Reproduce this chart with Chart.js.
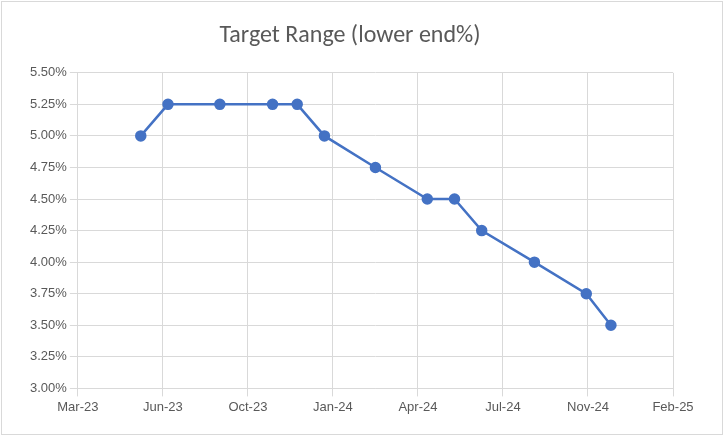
<!DOCTYPE html>
<html>
<head>
<meta charset="utf-8">
<script src="https://cdn.jsdelivr.net/npm/chart.js@4"></script>
<style>
  body { margin: 0; background: #fff; }
  #wrap { position: absolute; left: 1px; top: 1px; width: 720px; height: 432px; border: 1px solid #d9d9d9; }
</style>
</head>
<body>
<div id="wrap"><canvas id="c"></canvas></div>
<script>
// decision dates and lower end of target range (%)
const dates = ["2023-05-14", "2023-06-15", "2023-08-15", "2023-10-16", "2023-11-14", "2023-12-16",
  "2024-02-14", "2024-04-15", "2024-05-17", "2024-06-18", "2024-08-19", "2024-10-19", "2024-11-17"];
const rates = [5.00, 5.25, 5.25, 5.25, 5.25, 5.00, 4.75, 4.50, 4.50, 4.25, 4.00, 3.75, 3.50];
const xLabels = ["Mar-23", "Jun-23", "Oct-23", "Jan-24", "Apr-24", "Jul-24", "Nov-24", "Feb-25"];

// x axis counts days from the first tick, one tick every 100 days
const axisStart = Date.UTC(2023, 2, 1);
const dayMs = 86400000;
const tickStep = 100;
const toDays = d => (Date.parse(d) - axisStart) / dayMs;

new Chart(document.getElementById("c"), {
  type: "line",
  data: {
    datasets: [{
      data: dates.map((d, i) => ({ x: toDays(d), y: rates[i] })),
      borderColor: "#4472C4",
      backgroundColor: "#4472C4",
      borderWidth: 2.5,
      pointRadius: 4.5,
      pointHoverRadius: 5
    }]
  },
  options: {
    responsive: true,
    maintainAspectRatio: false,
    animation: false,
    layout: { padding: { left: 25, right: 49, top: 14, bottom: 16 } },
    plugins: {
      legend: { display: false },
      title: {
        display: true,
        text: "Target Range (lower end%)",
        color: "#595959",
        font: { family: "Calibri, Carlito, 'Open Sans'", size: 24, weight: "normal" },
        padding: { top: 6, bottom: 22 }
      }
    },
    scales: {
      x: {
        type: "linear",
        min: 0,
        max: tickStep * (xLabels.length - 1),
        ticks: {
          stepSize: tickStep,
          color: "#595959",
          font: { size: 13 },
          callback: v => xLabels[Math.round(v / tickStep)]
        },
        grid: { color: "#d9d9d9" },
        border: { color: "#d9d9d9" }
      },
      y: {
        min: 3.0,
        max: 5.5,
        ticks: {
          stepSize: 0.25,
          color: "#595959",
          font: { size: 13 },
          callback: v => v.toFixed(2) + "%"
        },
        grid: { color: "#d9d9d9" },
        border: { display: false }
      }
    }
  }
});
</script>
</body>
</html>
